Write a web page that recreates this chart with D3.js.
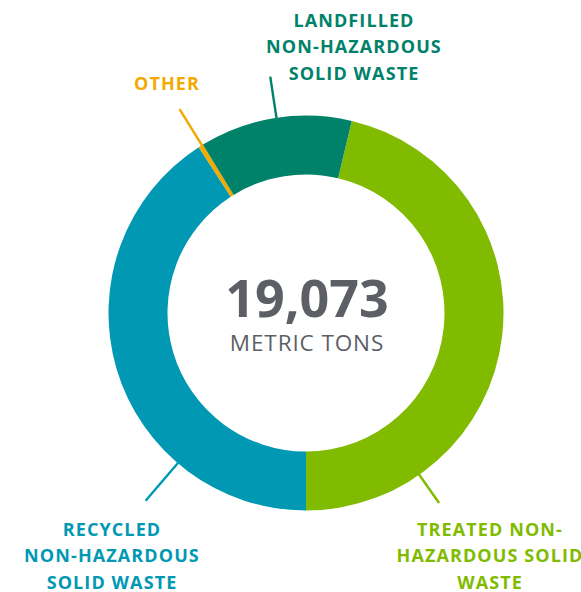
<!DOCTYPE html>
<html>
<head>
<meta charset="utf-8">
<script src="https://cdn.jsdelivr.net/npm/d3@7"></script>
<style>
  body { margin: 0; background: #fff; }
  svg text { font-family: "Open Sans", sans-serif; }
</style>
</head>
<body>
<div id="holder"></div>
<script>
// waste streams, clockwise from the treated slice
var categories = ['Treated', 'Recycled', 'Other', 'Landfilled'];
var tons = [8827, 7793, 75, 2378];
var labels = [
  ['TREATED NON-', 'HAZARDOUS SOLID', 'WASTE'],
  ['RECYCLED', 'NON-HAZARDOUS', 'SOLID WASTE'],
  ['OTHER'],
  ['LANDFILLED', 'NON-HAZARDOUS', 'SOLID WASTE']
];
var colors = ['#80bb00', '#0098b3', '#f2a900', '#00826a'];
var totalText = '19,073';
var unitText = 'METRIC TONS';

var width = 581, height = 592;
var cx = 306, cy = 313;
var outerR = 197.5, innerR = 138.5;
var start = 13.4 * Math.PI / 180;

// leader line angle (deg), end radius, label anchor
var leaders = [
  { a: 145, r: 232, x: 490, y: 536 },
  { a: 220.5, r: 247, x: 112, y: 536 },
  { a: -31.8, r: 240, x: 167, y: 90 },
  { a: -8.6, r: 239, x: 354, y: 27 }
];

var svg = d3.select('#holder').append('svg').attr('width', width).attr('height', height);
var g = svg.append('g').attr('transform', 'translate(' + cx + ',' + cy + ')');

var pie = d3.pie().sort(null).startAngle(start).endAngle(start + 2 * Math.PI);
var arc = d3.arc().innerRadius(innerR).outerRadius(outerR);
var arcs = pie(tons);

g.selectAll('path.slice')
  .data(arcs)
  .enter().append('path')
  .attr('class', 'slice')
  .attr('d', arc)
  .attr('fill', function(d, i) { return colors[i]; });

// leader lines
g.selectAll('line.leader')
  .data(leaders)
  .enter().append('line')
  .attr('class', 'leader')
  .attr('x1', function(d) { return Math.sin(d.a * Math.PI / 180) * (outerR - 1); })
  .attr('y1', function(d) { return -Math.cos(d.a * Math.PI / 180) * (outerR - 1); })
  .attr('x2', function(d) { return Math.sin(d.a * Math.PI / 180) * d.r; })
  .attr('y2', function(d) { return -Math.cos(d.a * Math.PI / 180) * d.r; })
  .attr('stroke', function(d, i) { return colors[i]; })
  .attr('stroke-width', 2.4);

// labels
labels.forEach(function(lines, i) {
  var t = svg.append('text')
    .attr('x', leaders[i].x)
    .attr('y', leaders[i].y)
    .attr('text-anchor', 'middle')
    .attr('fill', colors[i])
    .style('font-weight', 700)
    .style('font-size', '18px')
    .style('letter-spacing', '1.1px');
  lines.forEach(function(l, j) {
    t.append('tspan').attr('x', leaders[i].x).attr('dy', j === 0 ? 0 : 26.3).text(l);
  });
});

// center total
svg.append('text')
  .attr('x', cx + 1).attr('y', 317)
  .attr('text-anchor', 'middle')
  .attr('fill', '#5d5f66')
  .style('font-weight', 700)
  .style('font-size', '52px')
  .text(totalText);

svg.append('text')
  .attr('x', cx + 1).attr('y', 351)
  .attr('text-anchor', 'middle')
  .attr('fill', '#5d5f66')
  .style('font-weight', 400)
  .style('font-size', '22.5px')
  .style('letter-spacing', '0.9px')
  .text(unitText);
</script>
</body>
</html>
